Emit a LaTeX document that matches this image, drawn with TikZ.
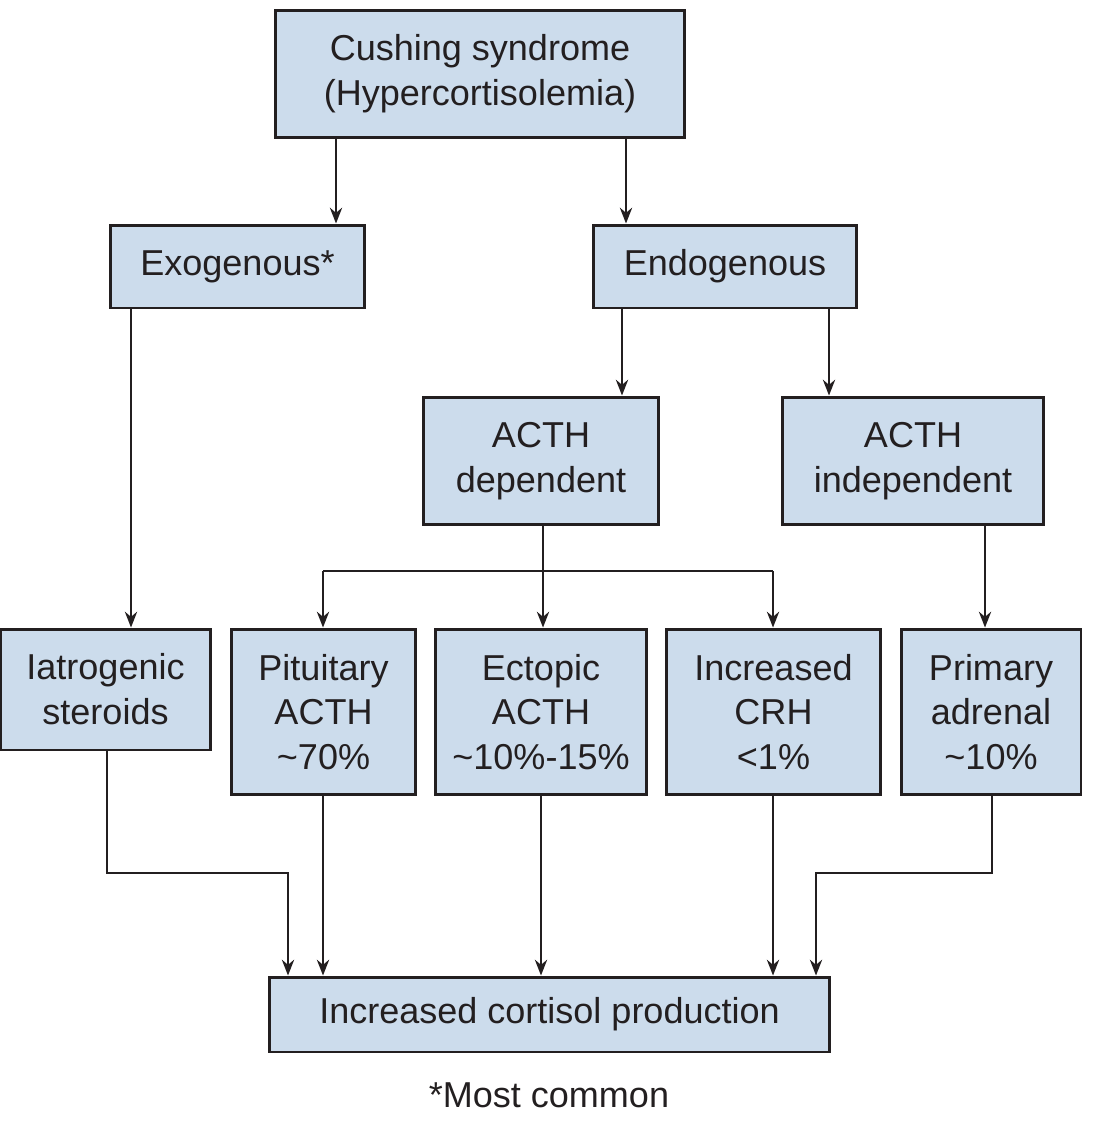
\documentclass[tikz,border=0pt]{standalone}
\usepackage{fontspec}
\setmainfont{Liberation Sans}
\usetikzlibrary{arrows.meta}
\definecolor{boxfill}{HTML}{CCDCEC}
\definecolor{ink}{HTML}{231F20}
\begin{document}
\begin{tikzpicture}[x=0.02cm,y=-0.02cm,
  bx/.style={draw=ink,fill=boxfill,line width=1.7pt,inner sep=0pt,align=center,
    font=\fontsize{20.5}{25.5}\selectfont,text=ink},
  arr/.style={draw=ink,line width=1.2pt,-{Stealth[length=9pt,width=7pt]}},
  ln/.style={draw=ink,line width=1.2pt}]
\useasboundingbox (0,0) rectangle (1098,1122);
\newcommand{\bxat}[6]{\node[bx,minimum width=#3*0.02cm,minimum height=#4*0.02cm] (#1) at (#2) {#5};}
\node[bx,minimum width=8.2cm,minimum height=2.56cm] (top) at (480,74) {Cushing syndrome\\(Hypercortisolemia)};
\node[bx,minimum width=5.1cm,minimum height=1.66cm] (exo) at (237.5,266.5) {Exogenous*};
\node[bx,minimum width=5.28cm,minimum height=1.66cm] (endo) at (725,266.5) {Endogenous};
\node[bx,minimum width=4.72cm,minimum height=2.56cm] (dep) at (541,461) {ACTH\\dependent};
\node[bx,minimum width=5.24cm,minimum height=2.56cm] (indep) at (913,461) {ACTH\\independent};
\node[bx,minimum width=4.22cm,minimum height=2.42cm] (iat) at (105.5,689.5) {Iatrogenic\\steroids};
\node[bx,minimum width=3.7cm,minimum height=3.32cm] (pit) at (323.5,712) {Pituitary\\ACTH\\\textasciitilde70\%};
\node[bx,minimum width=4.24cm,minimum height=3.32cm] (ect) at (541,712) {Ectopic\\ACTH\\\textasciitilde10\%-15\%};
\node[bx,minimum width=4.3cm,minimum height=3.32cm] (crh) at (773.5,712) {Increased\\CRH\\<1\%};
\node[bx,minimum width=3.6cm,minimum height=3.32cm] (pri) at (991,712) {Primary\\adrenal\\\textasciitilde10\%};
\node[bx,minimum width=11.22cm,minimum height=1.5cm] (bot) at (549.5,1014.5) {Increased cortisol production};
\node[font=\fontsize{20.5}{25.5}\selectfont,text=ink] (note) at (549,1095) {*Most common};
\draw[arr] (top.south -| 336,0) -- (exo.north -| 336,0);
\draw[arr] (top.south -| 626,0) -- (endo.north -| 626,0);
\draw[arr] (endo.south -| 622,0) -- (dep.north -| 622,0);
\draw[arr] (endo.south -| 829,0) -- (indep.north -| 829,0);
\draw[arr] (exo.south -| 131,0) -- (iat.north -| 131,0);
\coordinate (j) at (543,571);
\draw[ln] (dep.south -| 543,0) -- (j);
\draw[ln] (323,571) -- (773,571);
\draw[arr] (323,571) -- (pit.north -| 323,0);
\draw[arr] (j) -- (ect.north -| 543,0);
\draw[arr] (773,571) -- (crh.north -| 773,0);
\draw[arr] (indep.south -| 985,0) -- (pri.north -| 985,0);
\draw[arr] (iat.south -| 107,0) -- (107,873) -- (288,873) -- (bot.north -| 288,0);
\draw[arr] (pit.south -| 323,0) -- (bot.north -| 323,0);
\draw[arr] (ect.south -| 541,0) -- (bot.north -| 541,0);
\draw[arr] (crh.south -| 773,0) -- (bot.north -| 773,0);
\draw[arr] (pri.south -| 992,0) -- (992,873) -- (816,873) -- (bot.north -| 816,0);
\end{tikzpicture}
\end{document}
